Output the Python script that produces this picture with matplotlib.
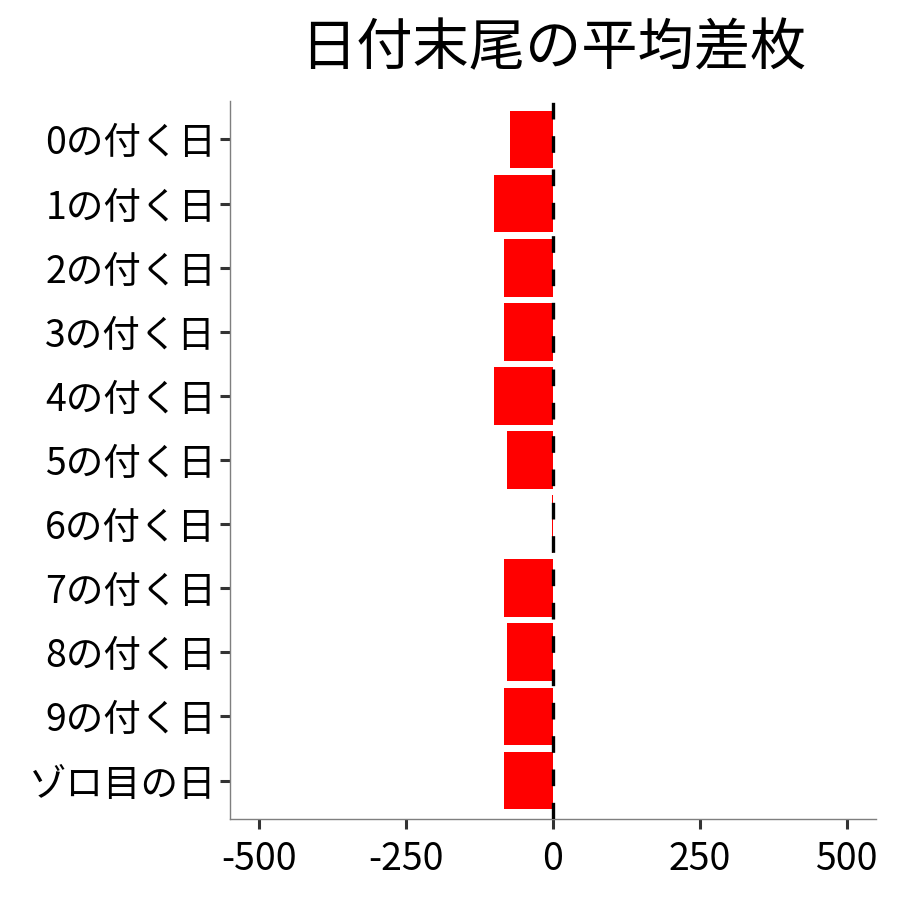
import matplotlib
matplotlib.use("Agg")
import matplotlib.pyplot as plt

plt.rcParams['font.family'] = ['Noto Sans CJK JP', 'DejaVu Sans']

# categories, top to bottom
labels = ['0の付く日', '1の付く日', '2の付く日', '3の付く日', '4の付く日',
          '5の付く日', '6の付く日', '7の付く日', '8の付く日', '9の付く日',
          'ゾロ目の日']
diff = [-74, -101, -84, -83, -101, -78, -2, -84, -78, -83, -84]

title = '日付末尾の平均差枚'
xticks = [-500, -250, 0, 250, 500]

fig = plt.figure(figsize=(9, 9), dpi=100)
ax = fig.add_axes([0.2556, 0.0900, 0.7178, 0.7978])

ypos = list(range(len(labels)))[::-1]
ax.barh(ypos, diff, height=0.9, color='#ff0000', zorder=2)
ax.axvline(0, color='black', linewidth=2.4, linestyle=(0, (5, 5)), zorder=3)

ax.set_xlim(-550, 550)
ax.set_ylim(-0.6, len(labels) - 0.4)
ax.set_xticks(xticks)
ax.set_xticklabels([str(v) for v in xticks])
ax.set_yticks(ypos)
ax.set_yticklabels(labels)

for s in ['top', 'right']:
    ax.spines[s].set_visible(False)
for s in ['left', 'bottom']:
    ax.spines[s].set_color('#7f7f7f')
    ax.spines[s].set_linewidth(1.0)

ax.tick_params(axis='both', length=7, width=2.2, color='#333333',
               labelsize=27, labelcolor='black')
ax.tick_params(axis='x', pad=8)
ax.tick_params(axis='y', pad=3)

ax.set_title(title, fontsize=40.5, pad=26)

fig.savefig('out.png', dpi=100, facecolor='white')
